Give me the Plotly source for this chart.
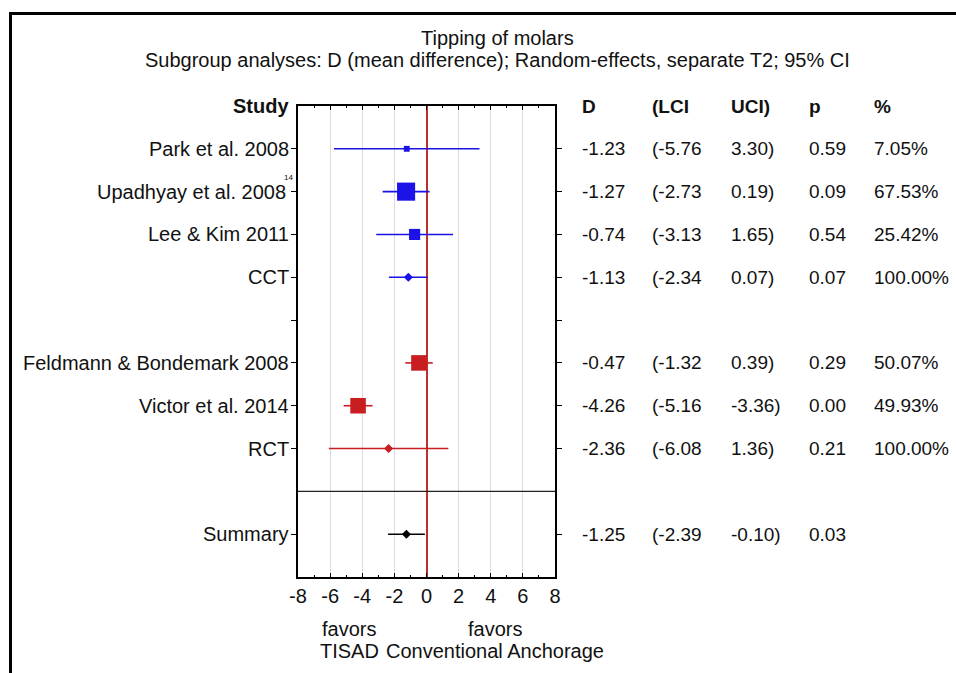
import plotly.graph_objects as go

# ---------------- data ----------------
row_labels = ["Park et al. 2008", "Upadhyay et al. 2008", "Lee & Kim 2011", "CCT", "",
              "Feldmann & Bondemark 2008", "Victor et al. 2014", "RCT", "", "Summary"]
row_kind = ["study", "study", "study", "subtotal", "blank",
            "study", "study", "subtotal", "separator", "summary"]
row_group = ["CCT", "CCT", "CCT", "CCT", None, "RCT", "RCT", "RCT", None, "All"]
D_vals = [-1.23, -1.27, -0.74, -1.13, None, -0.47, -4.26, -2.36, None, -1.25]
LCI_vals = [-5.76, -2.73, -3.13, -2.34, None, -1.32, -5.16, -6.08, None, -2.39]
UCI_vals = [3.30, 0.19, 1.65, 0.07, None, 0.39, -3.36, 1.36, None, -0.10]
p_vals = [0.59, 0.09, 0.54, 0.07, None, 0.29, 0.00, 0.21, None, 0.03]
weights = [7.05, 67.53, 25.42, 100.00, None, 50.07, 49.93, 100.00, None, None]
superscripts = {"Upadhyay et al. 2008": "14"}
x_ticks = [-8, -6, -4, -2, 0, 2, 4, 6, 8]
x_tick_text = ["-8", "-6", "-4", "-2", "0", "2", "4", "6", "8"]
headers = ["D", "(LCI", "UCI)", "p", "%"]
title_lines = ["Tipping of molars",
               "Subgroup analyses: D (mean difference); Random-effects, separate T2; 95% CI"]
favors_left = ["favors", "TISAD"]
favors_right = ["favors", "Conventional Anchorage"]

# ---------------- style ----------------
W, H = 956, 673
FONT = "Liberation Sans, Arial, sans-serif"
FS = 20
FS_TABLE = 19
group_colors = {"CCT": "#1a12e6", "RCT": "#c81e22", "All": "#000000"}
ref_line_color = "#bf2d2d"


def px(x):
    return x / W


def py(y):
    return 1 - y / H


rows = list(range(1, len(row_labels) + 1))  # row positions on y axis
y_top, y_bottom = 0, len(row_labels) + 1

fig = go.Figure()

for grp in ["CCT", "RCT", "All"]:
    idx = [i for i in range(len(row_labels)) if row_group[i] == grp]
    xs = [D_vals[i] for i in idx]
    ys = [rows[i] for i in idx]
    plus = [UCI_vals[i] - D_vals[i] for i in idx]
    minus = [D_vals[i] - LCI_vals[i] for i in idx]
    symbols = ["square" if row_kind[i] == "study" else "diamond" for i in idx]
    sizes = []
    for i in idx:
        if row_kind[i] == "study":
            sizes.append(2.2 * weights[i] ** 0.5)
        else:
            sizes.append(7)
    fig.add_trace(go.Scatter(
        x=xs, y=ys, mode="markers",
        marker=dict(symbol=symbols, size=sizes, color=group_colors[grp],
                    opacity=1, line=dict(width=0)),
        error_x=dict(type="data", symmetric=False, array=plus, arrayminus=minus,
                     color=group_colors[grp], thickness=1.6, width=0),
        showlegend=False, hoverinfo="skip"))

# ---------------- axes ----------------
fig.update_layout(
    width=W, height=H, margin=dict(l=0, r=0, t=0, b=0, pad=0, autoexpand=False),
    paper_bgcolor="white", plot_bgcolor="white",
    font=dict(family=FONT, size=FS, color="#111111"),
    xaxis=dict(domain=[px(298), px(555)], range=[-8, 8], automargin=False,
               tickmode="array", tickvals=x_ticks, ticktext=x_tick_text,
               ticks="inside", ticklen=4, tickwidth=1.2, tickcolor="black",
               minor=dict(dtick=1, ticks="inside", ticklen=2, tickcolor="black", showgrid=False),
               showline=True, linecolor="black", linewidth=1.5, mirror="ticks",
               showgrid=True, gridcolor="#dcdcdc", gridwidth=1,
               zeroline=True, zerolinecolor=ref_line_color, zerolinewidth=2,
               tickfont=dict(size=FS, color="#111111"), fixedrange=True),
    yaxis=dict(domain=[py(577), py(106)], range=[y_bottom, y_top], automargin=False,
               tickvals=[rows[i] for i in range(len(rows)) if row_kind[i] != "separator"],
               ticks="outside", ticklen=5, tickwidth=1.2, tickcolor="black",
               showticklabels=False, showline=True, linecolor="black", linewidth=1.5,
               mirror="ticks", showgrid=False, zeroline=False, fixedrange=True),
)

# separator line
for i, k in enumerate(row_kind):
    if k == "separator":
        fig.add_shape(type="line", xref="x domain", yref="y", x0=0, x1=1,
                      y0=rows[i], y1=rows[i], line=dict(color="#222222", width=1.2))

# outer frame (left and top)
fig.add_shape(type="line", xref="paper", yref="paper", x0=px(10.5), x1=px(10.5),
              y0=py(12), y1=0, line=dict(color="black", width=3))
fig.add_shape(type="line", xref="paper", yref="paper", x0=px(9), x1=1,
              y0=py(13.5), y1=py(13.5), line=dict(color="black", width=3))

ann = []
# title
for line, yy in zip(title_lines, [38, 60]):
    ann.append(dict(text=line, xref="paper", yref="paper", x=px(497), y=py(yy),
                    xanchor="center", yanchor="middle", showarrow=False))

# headers
ann.append(dict(text="<b>Study</b>", xref="paper", yref="y", x=px(291), y=y_top,
                xanchor="right", yanchor="middle", showarrow=False))
col_x = [580, 650, 729, 807, 872]
for h, cx in zip(headers, col_x):
    ann.append(dict(text=f"<b>{h}</b>", xref="paper", yref="y", x=px(cx), y=y_top,
                    xanchor="left", yanchor="middle", showarrow=False,
                    font=dict(size=FS_TABLE)))

# study labels and table
for i, lab in enumerate(row_labels):
    if row_kind[i] in ("blank", "separator"):
        continue
    right_edge = 291
    if lab in superscripts:
        right_edge = 288
        ann.append(dict(text=superscripts[lab], xref="paper", yref="y", x=px(282),
                        y=rows[i], yshift=14, xanchor="left", yanchor="middle",
                        showarrow=False, font=dict(size=8)))
    ann.append(dict(text=lab, xref="paper", yref="y", x=px(right_edge), y=rows[i],
                    xanchor="right", yanchor="middle", showarrow=False))
    cells = [f"{D_vals[i]:.2f}", f"({LCI_vals[i]:.2f}", f"{UCI_vals[i]:.2f})",
             f"{p_vals[i]:.2f}", "" if weights[i] is None else f"{weights[i]:.2f}%"]
    for c, cx in zip(cells, col_x):
        if c:
            ann.append(dict(text=c, xref="paper", yref="y", x=px(cx), y=rows[i],
                            xanchor="left", yanchor="middle", showarrow=False,
                            font=dict(size=FS_TABLE)))

# favors labels
for lines, cx in [(favors_left, 349), (favors_right, 495)]:
    for line, yy in zip(lines, [629, 651]):
        ann.append(dict(text=line, xref="paper", yref="paper", x=px(cx), y=py(yy),
                        xanchor="center", yanchor="middle", showarrow=False))

fig.update_layout(annotations=ann)
fig.write_html("out.html", post_script="document.body.style.margin='0px';")
